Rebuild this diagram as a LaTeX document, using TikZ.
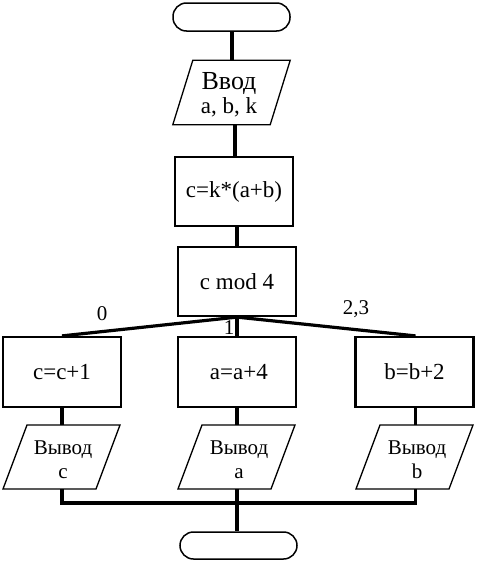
\documentclass[tikz,border=0pt]{standalone}
\usepackage{fontspec}
\setmainfont{Liberation Serif}
\begin{document}
\begin{tikzpicture}[x=1pt,y=-1pt,
  term/.style={draw,line width=1.5pt,rounded corners=13.5pt,minimum width=117pt,minimum height=28pt,inner sep=0pt},
  proc/.style={draw,line width=2.2pt,minimum width=118pt,minimum height=69pt,inner sep=0pt,font=\fontsize{23}{26}\selectfont},
  iobox/.style={draw=none,minimum width=117pt,minimum height=64pt,inner sep=0pt,align=center},
  parab/.style={line width=1.3pt},
  conn/.style={line width=3.2pt},
  lbl/.style={font=\fontsize{21}{24}\selectfont,inner sep=0pt}]
\useasboundingbox (0,0) rectangle (478,565);
% nodes
\node[term] (start) at (231.5,17) {};
\node[iobox] (in) at (231.5,92.5) {};
\node[inner sep=0pt,align=center] (intext) at (229,94.5) {\fontsize{26}{26}\selectfont Ввод\\[2pt]\fontsize{23}{26}\selectfont a, b, k};
\node[proc] (calc) at (234,191.5) {c=k*(a+b)};
\node[proc] (mod) at (237,281.5) {c mod 4};
\node[proc,minimum height=70pt] (b0) at (62,372) {c=c+1};
\node[proc,minimum height=70pt] (b1) at (237,372) {\,a=a+4};
\node[proc,minimum height=70pt] (b2) at (414.5,372) {b=b+2};
\node[inner sep=0pt,align=center,font=\fontsize{21}{24}\selectfont] (o0) at (63,460) {Вывод\\c};
\node[inner sep=0pt,align=center,font=\fontsize{21}{24}\selectfont] (o1) at (239,460) {Вывод\\a};
\node[inner sep=0pt,align=center,font=\fontsize{21}{24}\selectfont] (o2) at (417,460) {Вывод\\b};
\node[term,minimum height=27pt] (end) at (238.5,545.5) {};
% parallelogram outlines
\coordinate (p0) at (61.5,457);
\coordinate (p1) at (236.5,457);
\coordinate (p2) at (414.5,457);
\foreach \c in {p0,p1,p2}{
  \draw[parab] ([shift={(-34.5,-32)}]\c) -- ([shift={(58.5,-32)}]\c) -- ([shift={(34.5,32)}]\c) -- ([shift={(-58.5,32)}]\c) -- cycle;
}
\draw[parab] ([xshift=20pt]in.north west) -- (in.north east) -- ([xshift=-20pt]in.south east) -- (in.south west) -- cycle;
% tops and bottoms of output boxes
\coordinate (t0) at (62,425);  \coordinate (u0) at (62,489);
\coordinate (t1) at (237,425); \coordinate (u1) at (237,489);
\coordinate (t2) at (415.5,425); \coordinate (u2) at (415.5,489);
\coordinate (bus) at (0,503);
% connectors
\coordinate (j1) at (232,0);
\draw[conn] (start.south -| j1) -- (in.north -| j1);
\coordinate (j2) at (235,0);
\draw[conn] (in.south -| j2) -- (calc.north -| j2);
\draw[conn] (calc.south -| mod.north) -- (mod.north);
\draw[conn] (mod.south) -- (b0.north);
\draw[conn] (mod.south) -- (b1.north);
\draw[conn] (mod.south) -- (t2 |- b2.north);
\draw[conn] (b0.south) -- (t0);
\draw[conn] (b1.south) -- (t1);
\draw[conn] (t2 |- b2.south) -- (t2);
\draw[conn] (u0) -- (u0 |- bus) -- (u2 |- bus) -- (u2);
\draw[conn] (u1) -- (end.north -| u1);
% labels
\node[lbl] (l0) at (102,314) {0};
\node[lbl] (l1) at (229,328) {1};
\node[lbl] (l2) at (356,309) {2,3};
\end{tikzpicture}
\end{document}
